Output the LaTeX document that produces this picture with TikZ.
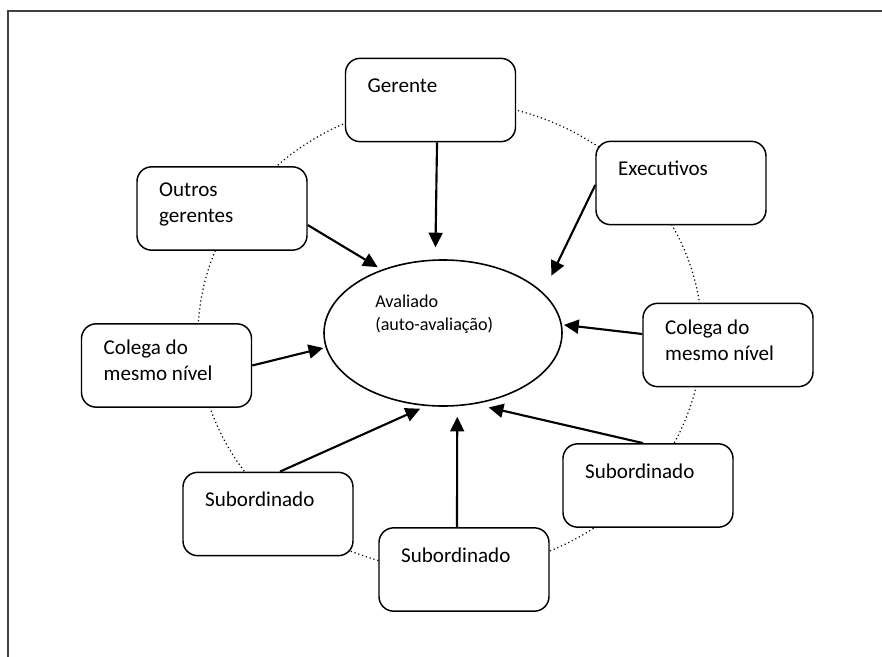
\documentclass[tikz,border=0pt]{standalone}
\usepackage{fontspec}
\setmainfont{Carlito}
\usetikzlibrary{arrows.meta}
\usetikzlibrary{shapes}

\begin{document}
\begin{tikzpicture}[x=0.75pt, y=-0.75pt,
	box/.style={draw, line width=1.1pt, rounded corners=11pt, fill=white, minimum width=127.5pt, minimum height=62.5pt, inner sep=0pt},
	boxtext/.style={anchor=north west, xshift=17pt, yshift=-12.4pt, inner sep=0pt, align=left, font=\fontsize{15.8}{19.5}\selectfont, execute at begin node=\strut},
	arr/.style={line width=1.6pt, -{Triangle[length=11pt, width=10.5pt]}}]
	\useasboundingbox (0,0) rectangle (882,657);
	%
	% frame
	\draw[line width=1.6pt, color=black!75] (8,657) -- (8,11) -- (882,11);
	%
	% dotted ring
	\draw[line width=0.9pt, dash pattern=on 0.9pt off 2.1pt] (450,336) ellipse [x radius=189pt, y radius=175.5pt];
	%
	% centre
	\node[draw, ellipse, line width=1.2pt, fill=white, minimum width=178.5pt, minimum height=109.5pt, inner sep=0pt] (eval) at (443,333) {};
	\node[anchor=north west, inner sep=0pt, align=left, font=\fontsize{13.6}{17.25}\selectfont] (evaltxt) at (375,295) {Avaliado\\(auto-avaliação)};
	%
	% boxes
	\node[box, label={[boxtext]north west:Gerente}] (ger) at (430.5,100) {};
	\node[box, label={[boxtext]north west:Outros\\gerentes}] (out) at (222,208.5) {};
	\node[box, label={[boxtext]north west:Executivos}] (exe) at (681,183) {};
	\node[box, label={[boxtext]north west:Colega do\\mesmo nível}] (colr) at (728,345) {};
	\node[box, label={[boxtext]north west:Colega do\\mesmo nível}] (coll) at (166.5,365.5) {};
	\node[box, label={[boxtext]north west:Subordinado}] (subl) at (268,514) {};
	\node[box, label={[boxtext]north west:Subordinado}] (subb) at (464,569.5) {};
	\node[box, label={[boxtext]north west:Subordinado}] (subr) at (648,485.5) {};
	%
	% arrows
	\draw[arr, shorten >=9pt] ([xshift=4.9pt]ger.south) -- (eval.96);
	\draw[arr, shorten >=3.5pt] ([yshift=-12.4pt]out.east) -- (eval.134);
	\draw[arr, shorten >=14pt] ([yshift=-1.5pt]exe.west) -- (eval.22);
	\draw[arr, shorten >=1.5pt] ([yshift=8.25pt]colr.west) -- (eval.4.5);
	\draw[arr, shorten >=1.8pt] (coll.east) -- (eval.187);
	\draw[arr, shorten >=4.9pt] ([xshift=9pt]subl.north) -- (eval.257);
	\draw[arr, shorten >=7.9pt] ([xshift=-5.25pt]subb.north) -- (eval.281);
	\draw[arr, shorten >=10.8pt] ([xshift=-3.75pt]subr.north) -- (eval.294);
\end{tikzpicture}
\end{document}
